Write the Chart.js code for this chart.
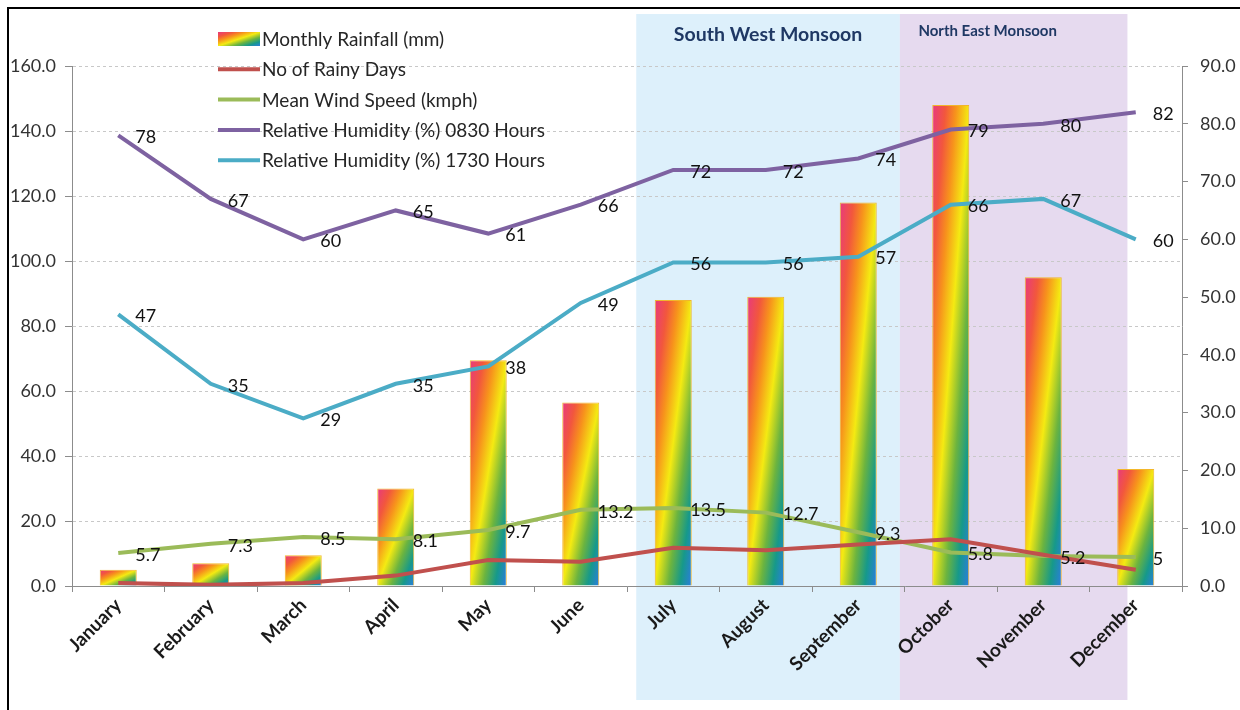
<!DOCTYPE html>
<html>
<head>
<meta charset="utf-8">
<script src="https://cdn.jsdelivr.net/npm/chart.js@4.4.1/dist/chart.umd.min.js"></script>
<style>
  html, body { margin: 0; padding: 0; background: #ffffff; }
  #wrap { width: 1240px; height: 710px; position: relative; }
</style>
</head>
<body>
<div id="wrap"><canvas id="c" width="1240" height="710"></canvas></div>
<script>
// Monthly climate normals
const months = ['January', 'February', 'March', 'April', 'May', 'June',
                'July', 'August', 'September', 'October', 'November', 'December'];
const rainfall  = [5, 7, 9.5, 30, 69.5, 56.5, 88, 89, 118, 148, 95, 36];
const rainyDays = [0.5, 0.2, 0.5, 1.8, 4.5, 4.2, 6.6, 6.2, 7.2, 8.1, 5.4, 2.8];
const windSpeed = [5.7, 7.3, 8.5, 8.1, 9.7, 13.2, 13.5, 12.7, 9.3, 5.8, 5.2, 5];
const rh0830    = [78, 67, 60, 65, 61, 66, 72, 72, 74, 79, 80, 82];
const rh1730    = [47, 35, 29, 35, 38, 49, 56, 56, 57, 66, 67, 60];

// Axis ranges
const leftAxis  = { min: 0, max: 160, step: 20 };
const rightAxis = { min: 0, max: 90, step: 10 };

// Monsoon seasons (first and last month covered)
const seasons = [
  { name: 'South West Monsoon', first: 'July', last: 'September' },
  { name: 'North East Monsoon', first: 'October', last: 'December' }
];

const FONT = 'Lato, "Open Sans", "Noto Sans", sans-serif';

// Rainbow fill used by the rainfall bars
const rainbowStops = [
  [0.00, '#E8397F'],
  [0.18, '#F2573D'],
  [0.32, '#F7921C'],
  [0.50, '#F4EA12'],
  [0.68, '#6CB43F'],
  [0.84, '#16998A'],
  [1.00, '#2C7CE0']
];

function diagonalRainbow(ctx, x, y, w, h) {
  // gradient runs from the top-left corner to the bottom-right corner,
  // with stripes parallel to the other diagonal
  const d = h * h + w * w || 1;
  const k = 2 * w * h / d;
  const g = ctx.createLinearGradient(x, y, x + h * k, y + w * k);
  rainbowStops.forEach(([o, c]) => g.addColorStop(o, c));
  return g;
}

const BAR_PCT = 0.4;

function barFill(c) {
  const chart = c.chart;
  const area = chart.chartArea;
  if (!area || c.type !== 'data') return '#F7921C';
  const xs = chart.scales.x, ys = chart.scales.y;
  const slot = (area.right - area.left) / months.length;
  const w = slot * BAR_PCT;
  const cx = xs.getPixelForValue(c.dataIndex);
  const top = ys.getPixelForValue(c.raw);
  const bottom = ys.getPixelForValue(0);
  return diagonalRainbow(chart.ctx, cx - w / 2, top, w, Math.max(1, bottom - top));
}

// Season bands behind the plot, with their titles
const seasonBands = {
  id: 'seasonBands',
  beforeDraw(chart) {
    const { ctx } = chart;
    const xs = chart.scales.x;
    const idx = m => months.indexOf(m);
    const slot = xs.getPixelForValue(1) - xs.getPixelForValue(0);
    const sw = seasons[0], ne = seasons[1];
    const swL = xs.getPixelForValue(idx(sw.first)) - slot * 0.4;
    const swR = xs.getPixelForValue(idx(ne.first)) - slot * 0.55;
    const neR = xs.getPixelForValue(idx(ne.last)) - slot * 0.09;
    const top = 14, bottom = 700;
    ctx.save();
    ctx.fillStyle = '#ffffff';
    ctx.fillRect(0, 0, chart.width, chart.height);
    ctx.fillStyle = '#DDF0FB';
    ctx.fillRect(swL, top, swR - swL, bottom - top);
    ctx.fillStyle = '#E6DAEF';
    ctx.fillRect(swR, top, neR - swR, bottom - top);
    ctx.fillStyle = '#1F3864';
    ctx.textAlign = 'center';
    ctx.textBaseline = 'middle';
    ctx.font = 'bold 19.5px ' + FONT;
    ctx.fillText(sw.name, swL + (swR - swL) / 2, 35);
    ctx.font = 'bold 15px ' + FONT;
    ctx.fillText(ne.name, swR + (neR - swR) / 2 - 26, 31);
    ctx.restore();
  }
};

// Value labels to the right of the points of the labelled lines
const pointValues = {
  id: 'pointValues',
  afterDatasetsDraw(chart) {
    const { ctx } = chart;
    ctx.save();
    ctx.font = '18px ' + FONT;
    ctx.fillStyle = '#111111';
    ctx.textAlign = 'left';
    ctx.textBaseline = 'middle';
    chart.data.datasets.forEach((ds, i) => {
      if (!ds.showValues) return;
      const meta = chart.getDatasetMeta(i);
      meta.data.forEach((pt, j) => {
        ctx.fillText(String(ds.data[j]), pt.x + 17, pt.y + 2);
      });
    });
    ctx.restore();
  }
};

// Legend placed inside the plot, top-left
const insideLegend = {
  id: 'insideLegend',
  afterDraw(chart) {
    const { ctx } = chart;
    const x0 = 218, y0 = 39, row = 30.3, iconW = 42;
    ctx.save();
    ctx.font = '19px ' + FONT;
    ctx.textAlign = 'left';
    ctx.textBaseline = 'middle';
    chart.data.datasets.forEach((ds, i) => {
      const y = y0 + i * row;
      if (ds.type === 'bar') {
        ctx.fillStyle = diagonalRainbow(ctx, x0, y - 7, iconW, 14);
        ctx.fillRect(x0, y - 7, iconW, 14);
      } else {
        ctx.strokeStyle = ds.borderColor;
        ctx.lineWidth = 4;
        ctx.beginPath();
        ctx.moveTo(x0, y);
        ctx.lineTo(x0 + iconW, y);
        ctx.stroke();
      }
      ctx.fillStyle = '#262626';
      ctx.fillText(ds.label, x0 + iconW + 2, y + 1);
    });
    ctx.restore();
  }
};

// Outer frame of the figure
const frame = {
  id: 'frame',
  afterDraw(chart) {
    const { ctx } = chart;
    ctx.save();
    ctx.strokeStyle = '#000000';
    ctx.lineWidth = 2;
    ctx.beginPath();
    ctx.moveTo(8, chart.height);
    ctx.lineTo(8, 8);
    ctx.lineTo(chart.width, 8);
    ctx.stroke();
    ctx.restore();
  }
};

const axisGrey = '#8C8C8C';

new Chart(document.getElementById('c'), {
  data: {
    labels: months,
    datasets: [
      {
        type: 'bar', label: 'Monthly Rainfall (mm)', data: rainfall, yAxisID: 'y',
        backgroundColor: barFill, borderColor: 'rgba(242,176,20,0.9)', borderWidth: 1,
        categoryPercentage: 1, barPercentage: BAR_PCT, order: 10
      },
      {
        type: 'line', label: 'No of Rainy Days', data: rainyDays, yAxisID: 'y1',
        borderColor: '#C0504D', backgroundColor: '#C0504D', borderWidth: 4,
        pointRadius: 0, tension: 0, order: 2
      },
      {
        type: 'line', label: 'Mean Wind Speed (kmph)', data: windSpeed, yAxisID: 'y1',
        borderColor: '#9BBB59', backgroundColor: '#9BBB59', borderWidth: 4,
        pointRadius: 0, tension: 0, order: 3, showValues: true
      },
      {
        type: 'line', label: 'Relative Humidity (%) 0830 Hours', data: rh0830, yAxisID: 'y1',
        borderColor: '#7E62A1', backgroundColor: '#7E62A1', borderWidth: 4,
        pointRadius: 0, tension: 0, order: 1, showValues: true
      },
      {
        type: 'line', label: 'Relative Humidity (%) 1730 Hours', data: rh1730, yAxisID: 'y1',
        borderColor: '#4BACC6', backgroundColor: '#4BACC6', borderWidth: 4,
        pointRadius: 0, tension: 0, order: 1, showValues: true
      }
    ]
  },
  options: {
    responsive: false,
    devicePixelRatio: 1,
    animation: false,
    layout: { padding: { top: 66, left: 0, right: 0, bottom: 0 } },
    plugins: {
      legend: { display: false },
      tooltip: { enabled: false }
    },
    scales: {
      x: {
        type: 'category',
        offset: true,
        grid: { offset: true, drawOnChartArea: false, drawTicks: true, tickLength: 6, color: axisGrey },
        border: { color: axisGrey, width: 1 },
        ticks: {
          autoSkip: false, maxRotation: 45, minRotation: 45,
          color: '#1a1a1a', padding: 2,
          font: { family: FONT, size: 19, weight: 'bold' }
        },
        afterFit(s) { s.height = 124; }
      },
      y: {
        position: 'left',
        min: leftAxis.min, max: leftAxis.max,
        grid: { color: '#C8C8C8', tickColor: axisGrey, tickLength: 7, lineWidth: 1 },
        border: { color: axisGrey, width: 1, dash: [3, 3] },
        ticks: {
          stepSize: leftAxis.step, padding: 9, color: '#333333',
          font: { family: FONT, size: 18 },
          callback: v => Number(v).toFixed(1)
        },
        afterFit(s) { s.width = 72; }
      },
      y1: {
        position: 'right',
        min: rightAxis.min, max: rightAxis.max,
        grid: { drawOnChartArea: false, tickColor: axisGrey, tickLength: 6 },
        border: { color: axisGrey, width: 1 },
        ticks: {
          stepSize: rightAxis.step, padding: 12, color: '#333333',
          font: { family: FONT, size: 18 },
          callback: v => Number(v).toFixed(1)
        },
        afterFit(s) { s.width = 58; }
      }
    }
  },
  plugins: [seasonBands, pointValues, insideLegend, frame]
});
</script>
</body>
</html>
